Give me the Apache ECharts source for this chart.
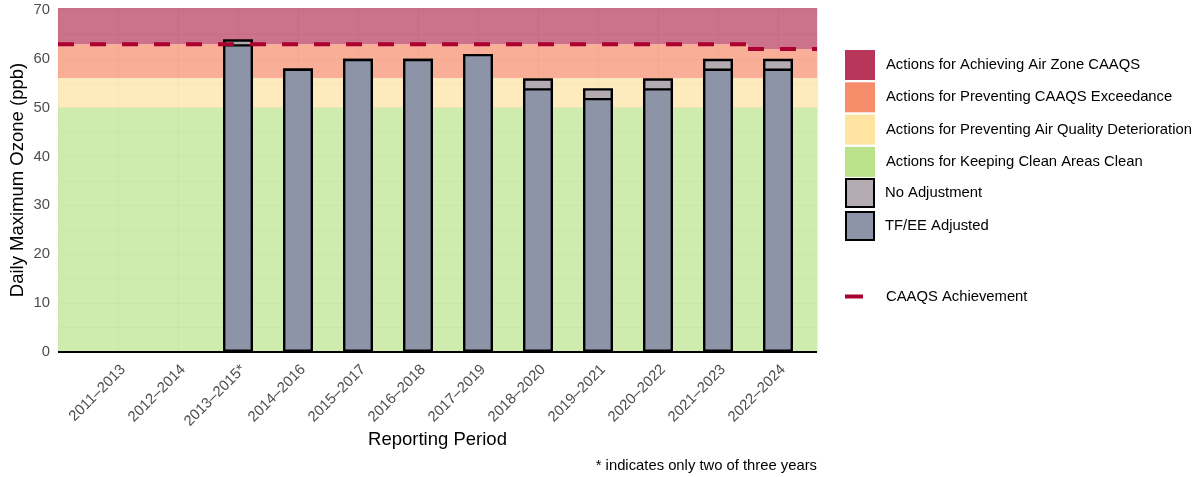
<!DOCTYPE html>
<html>
<head>
<meta charset="utf-8">
<script src="https://cdn.jsdelivr.net/npm/echarts@6/dist/echarts.min.js"></script>
<style>
html,body{margin:0;padding:0;background:#fff;}
#chart{width:1203px;height:477px;}
</style>
</head>
<body>
<div id="chart"></div>
<script>
// ---- data ----
const categories = ['2011\u20132013','2012\u20132014','2013\u20132015*','2014\u20132016','2015\u20132017','2016\u20132018','2017\u20132019','2018\u20132020','2019\u20132021','2020\u20132022','2021\u20132023','2022\u20132024'];
const noAdjustment = [null, null, 64, 58, 60, 60, 61, 56, 54, 56, 60, 60];
const tfeeAdjusted = [null, null, 63, 58, 60, 60, 61, 54, 52, 54, 58, 58];
const caaqsValues  = [63, 63, 63, 63, 63, 63, 63, 63, 63, 63, 63, 62];
const greenTop = 50;
const yellowTop = 56;
const yTickValues = [0, 10, 20, 30, 40, 50, 60, 70];

const bandNames = ['Actions for Achieving Air Zone CAAQS','Actions for Preventing CAAQS Exceedance','Actions for Preventing Air Quality Deterioration','Actions for Keeping Clean Areas Clean'];
const bandColors = ['#b8365a','#f78c6b','#fee3a1','#bae28b'];

const X_MIN = 0, X_MAX = 12.65, Y_MAX = 70.4;

// CAAQS segments
const segments = [];
let start = 0;
for (let i = 1; i <= caaqsValues.length; i++) {
  if (i === caaqsValues.length || caaqsValues[i] !== caaqsValues[start]) {
    const x0 = start === 0 ? X_MIN : start + 0.5;
    const x1 = i === caaqsValues.length ? X_MAX : i + 0.5;
    segments.push({x0, x1, v: caaqsValues[start]});
    start = i;
  }
}

function hexA(hex, a) {
  const r = parseInt(hex.slice(1,3),16), g = parseInt(hex.slice(3,5),16), b = parseInt(hex.slice(5,7),16);
  return `rgba(${r},${g},${b},${a})`;
}

const bandAreas = [
  segments.map(s => [{xAxis: s.x0, yAxis: s.v}, {xAxis: s.x1, yAxis: Y_MAX}]),
  segments.map(s => [{xAxis: s.x0, yAxis: yellowTop}, {xAxis: s.x1, yAxis: s.v}]),
  [[{xAxis: X_MIN, yAxis: greenTop}, {xAxis: X_MAX, yAxis: yellowTop}]],
  [[{xAxis: X_MIN, yAxis: 0}, {xAxis: X_MAX, yAxis: greenTop}]]
];

const series = [];
bandNames.forEach((name, i) => {
  series.push({
    name, type: 'bar', data: [], barWidth: 30, barGap: '-100%', z: 1,
    itemStyle: {color: bandColors[i]},
    markArea: {silent: true, z: 1, itemStyle: {color: hexA(bandColors[i], 0.7), borderWidth: 0}, data: bandAreas[i]}
  });
});
series.push({
  name: 'No Adjustment', type: 'bar', barWidth: 30, barGap: '-100%', z: 2,
  data: noAdjustment.map((v, i) => [i + 1, v]),
  itemStyle: {color: '#b3aab2', borderColor: '#000', borderWidth: 2.4}
});
series.push({
  name: 'TF/EE Adjusted', type: 'bar', barWidth: 30, barGap: '-100%', z: 3,
  data: tfeeAdjusted.map((v, i) => [i + 1, v]),
  itemStyle: {color: '#8e94a7', borderColor: '#000', borderWidth: 2.4},
  markLine: {silent: true, symbol: ['none','none'], label: {show: false}, lineStyle: {color: '#000', width: 2, type: 'solid'}, data: [{yAxis: 0}]}
});
segments.forEach(s => {
  series.push({
    name: 'CAAQS Achievement', type: 'line', z: 4, symbol: 'none', showSymbol: false,
    color: '#a8002f',
    data: [[s.x0, s.v], [s.x1, s.v]],
    lineStyle: {color: '#a8002f', width: 4, type: [16, 16], cap: 'butt'}
  });
});

const FONT = 'Liberation Sans, Arial, sans-serif';
const legendText = {fontSize: 14.8, color: '#000', fontFamily: FONT};
const chart = echarts.init(document.getElementById('chart'), null, {renderer: 'canvas'});
chart.setOption({
  animation: false,
  backgroundColor: '#fff',
  textStyle: {fontFamily: FONT},
  grid: {left: 58, right: 386, top: 8, bottom: 125, containLabel: false, outerBoundsMode: 'none'},
  xAxis: {
    type: 'value', min: X_MIN, max: X_MAX, interval: 1,
    axisLine: {show: false}, axisTick: {show: false},
    splitLine: {show: true, lineStyle: {color: '#ebebeb', width: 1.2}},
    axisLabel: {
      rotate: 45, margin: 10, verticalAlign: 'top', fontSize: 14.8, color: '#4d4d4d', fontFamily: FONT,
      showMaxLabel: false, showMinLabel: false,
      formatter: v => (Number.isInteger(v) && v >= 1 && v <= categories.length) ? categories[v - 1] : ''
    },
    name: 'Reporting Period', nameLocation: 'middle', nameGap: 78, nameMoveOverlap: false,
    nameTextStyle: {fontSize: 18.5, color: '#000', fontFamily: FONT}
  },
  yAxis: {
    type: 'value', min: 0, max: Y_MAX, interval: 5,
    axisLine: {show: false}, axisTick: {show: false},
    splitLine: {show: true, lineStyle: {color: '#ebebeb', width: 1.2}},
    axisLabel: {
      margin: 8, fontSize: 14.8, color: '#4d4d4d', fontFamily: FONT, showMaxLabel: false,
      formatter: v => yTickValues.indexOf(v) >= 0 ? String(v) : ''
    },
    name: 'Daily Maximum Ozone (ppb)', nameLocation: 'middle', nameGap: 31, nameMoveOverlap: false,
    nameTextStyle: {fontSize: 18.5, color: '#000', fontFamily: FONT}
  },
  legend: [
    {
      orient: 'vertical', left: 845, top: 50, padding: 0, itemWidth: 30, itemHeight: 30, itemGap: 2.3,
      selectedMode: false,
      textStyle: Object.assign({padding: [0, 0, 0, 6]}, legendText),
      data: bandNames.map((n, i) => ({name: n, icon: 'rect', itemStyle: {color: bandColors[i], borderWidth: 0}}))
    },
    {
      orient: 'vertical', left: 845, top: 178, padding: 0, itemWidth: 28, itemHeight: 28, itemGap: 3,
      selectedMode: false,
      textStyle: Object.assign({padding: [0, 0, 0, 6]}, legendText),
      data: [
        {name: 'No Adjustment', icon: 'rect', itemStyle: {color: '#b3aab2', borderColor: '#000', borderWidth: 2}},
        {name: 'TF/EE Adjusted', icon: 'rect', itemStyle: {color: '#8e94a7', borderColor: '#000', borderWidth: 2}}
      ]
    },
    {
      orient: 'vertical', left: 845, top: 289, padding: 0, itemWidth: 18, itemHeight: 4,
      selectedMode: false,
      textStyle: Object.assign({padding: [0, 0, 0, 18]}, legendText),
      data: [{name: 'CAAQS Achievement', icon: 'rect', itemStyle: {color: '#a8002f', borderWidth: 0}}]
    }
  ],
  graphic: [{
    type: 'text', right: 386, top: 458,
    style: {text: '* indicates only two of three years', fontSize: 14.8, fill: '#000', fontFamily: FONT}
  }],
  series
});
</script>
</body>
</html>
